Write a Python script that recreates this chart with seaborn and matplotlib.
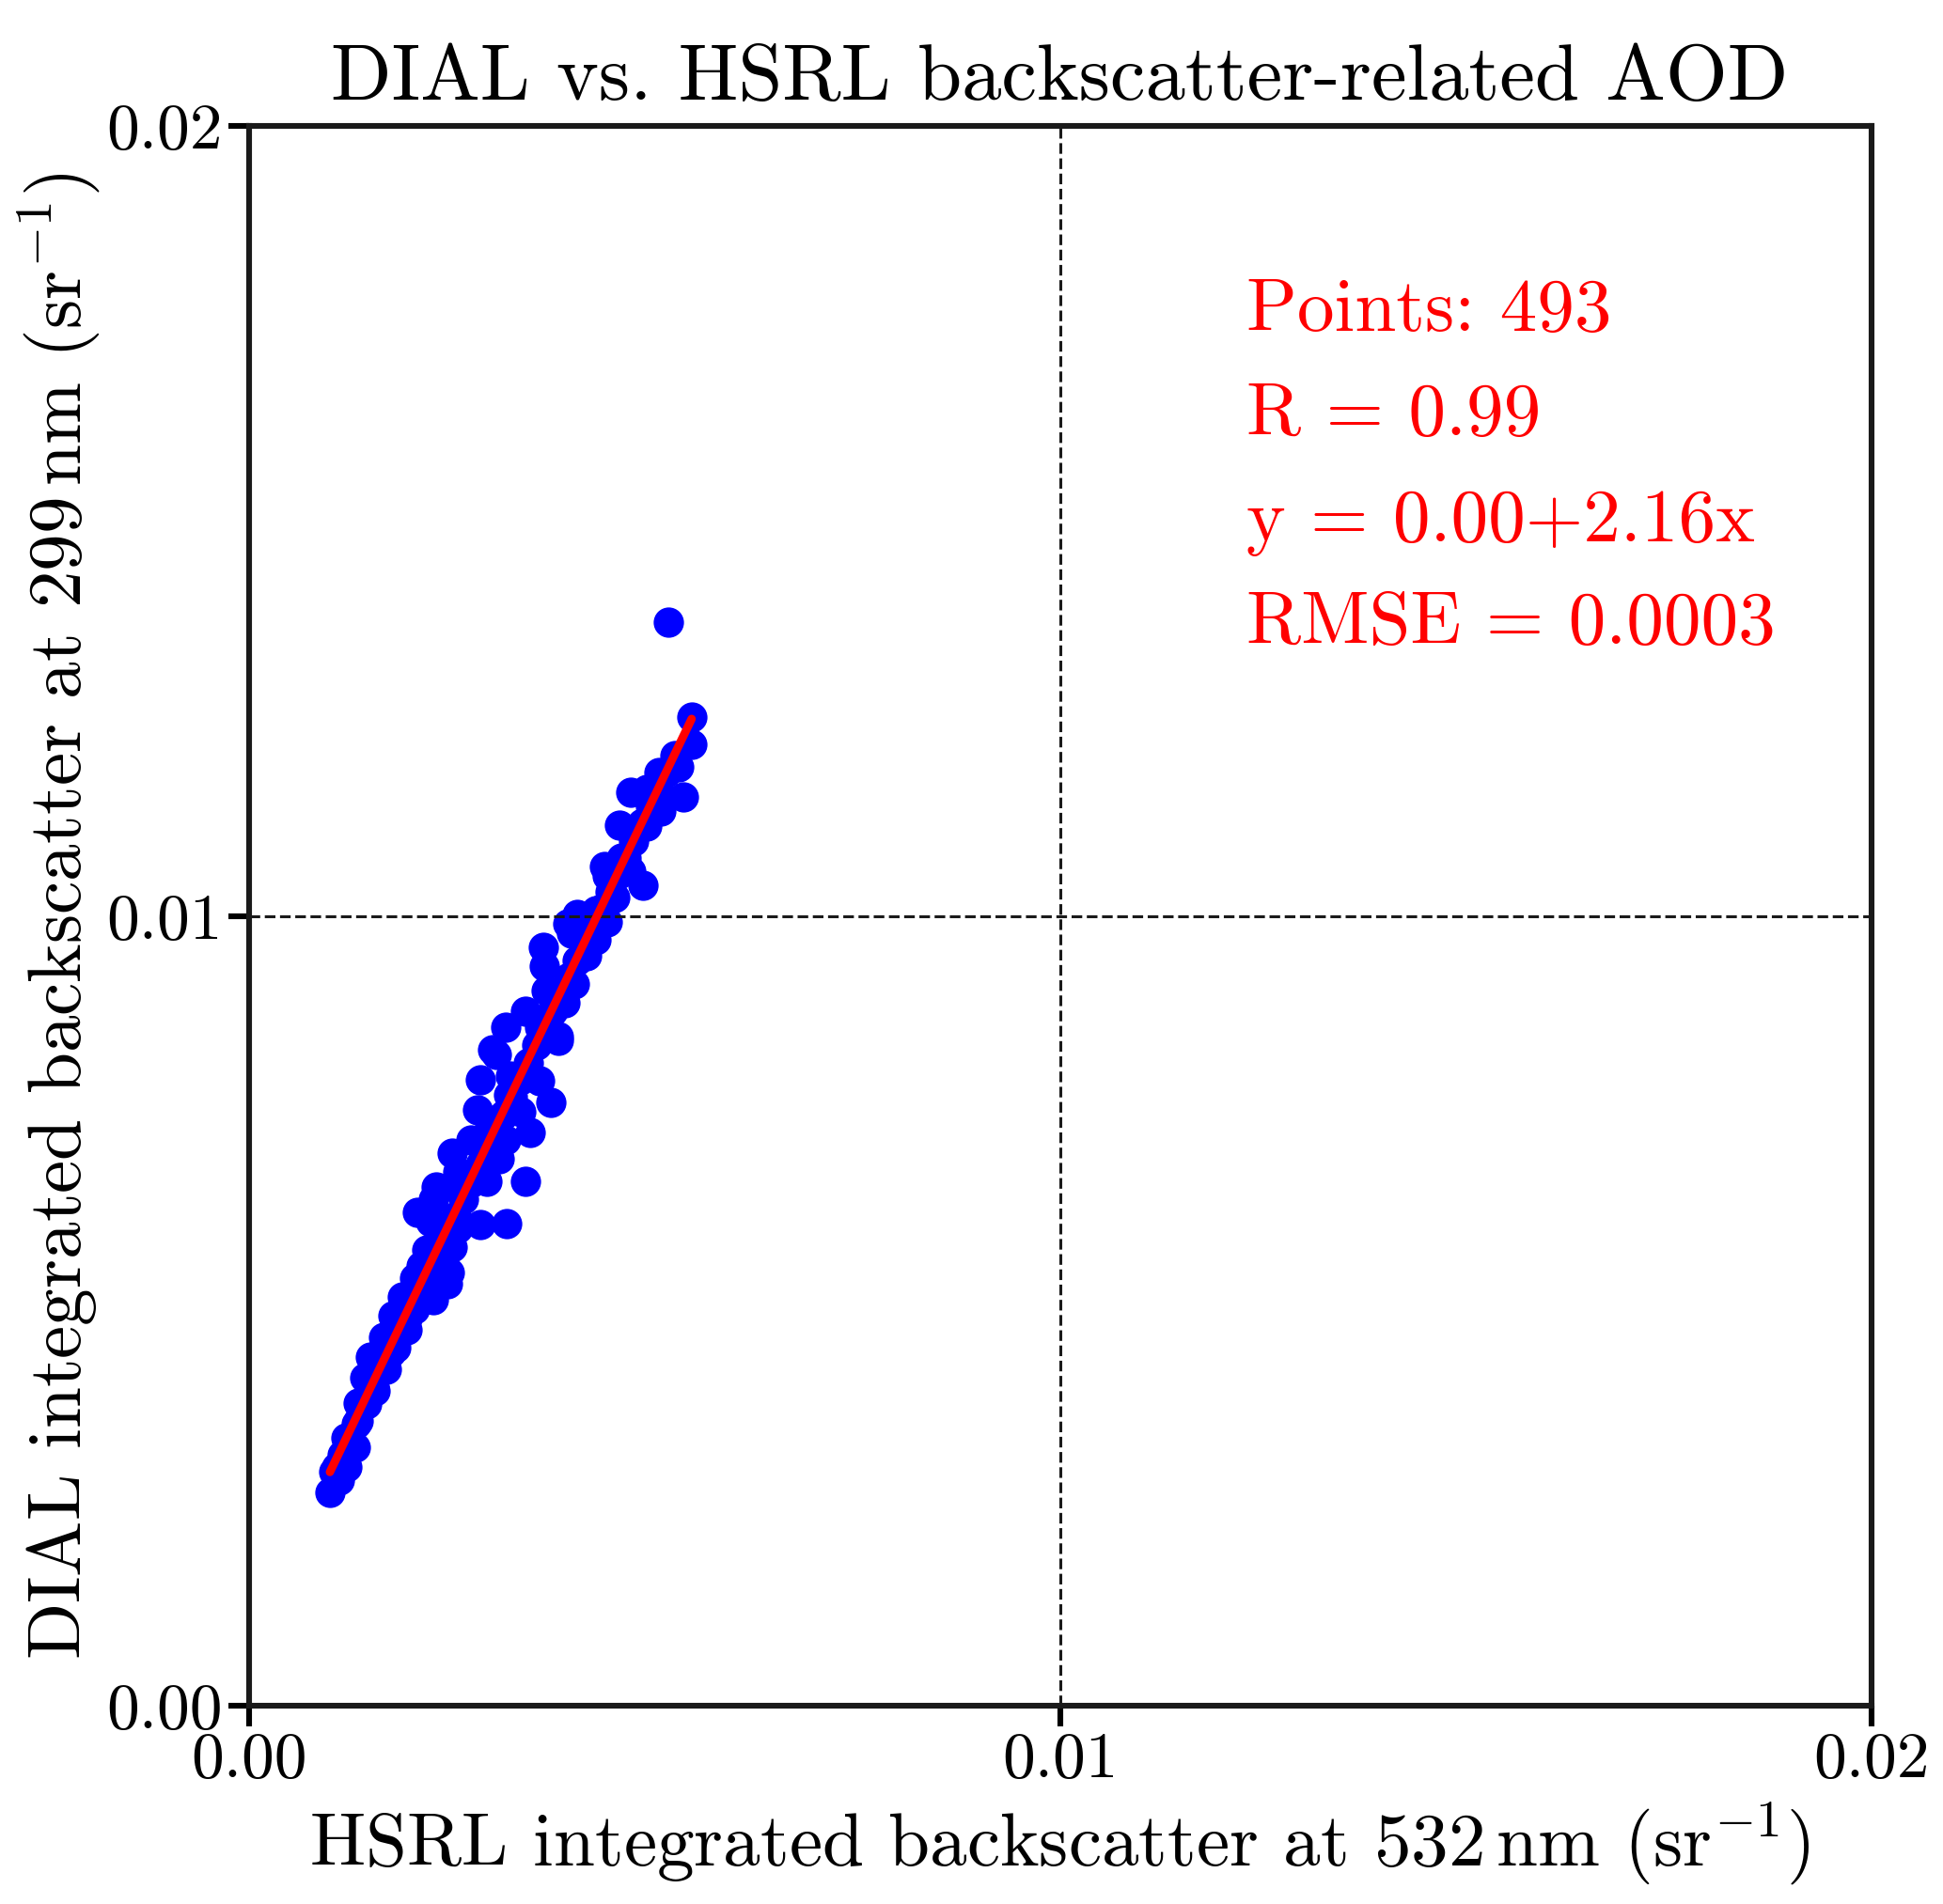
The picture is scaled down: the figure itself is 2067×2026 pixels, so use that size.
"""
DIAL vs. HSRL integrated backscatter scatter with linear fit.
"""

import numpy as np
import pandas as pd
import seaborn as sns
import matplotlib.pyplot as plt

# --- Data ---
hsrl_x = [
    0.005171, 0.00546, 0.00546, 0.005306, 0.005055, 0.005364, 0.004707, 0.004901,
    0.005075, 0.004572, 0.004746, 0.004901, 0.00438, 0.004418, 0.004862, 0.004707,
    0.004514, 0.004592, 0.004051, 0.003935, 0.004283, 0.004418, 0.004283, 0.003974,
    0.003627, 0.003645, 0.004167, 0.004013, 0.003897, 0.003665, 0.003413, 0.003163,
    0.003819, 0.003587, 0.003008,
    0.003819, 0.003047, 0.002854, 0.003221, 0.003587, 0.003723, 0.003201, 0.003356,
    0.002816, 0.003472, 0.002969, 0.003163, 0.002738, 0.002506, 0.003086, 0.002583,
    0.003413, 0.002931, 0.002313, 0.002622, 0.002275, 0.002082, 0.002854, 0.003182,
    0.002236, 0.002583, 0.002506, 0.002197, 0.00212, 0.002468, 0.002043, 0.002448,
    0.002275, 0.001889, 0.002043, 0.001773, 0.001947, 0.001657, 0.001811, 0.001502,
    0.001696, 0.001425, 0.00156, 0.001348, 0.001329, 0.001194, 0.00131, 0.001078,
    0.001213, 0.001117, 0.001001,
    0.00105, 0.00115, 0.00125, 0.00135, 0.00145, 0.00155, 0.00165, 0.00175,
    0.00185, 0.00195, 0.00205, 0.00215, 0.00225, 0.00235, 0.00245, 0.00255,
    0.00265, 0.00275, 0.00285, 0.00295, 0.00305, 0.00315, 0.00325, 0.00335,
    0.00345, 0.00355, 0.00365, 0.00375, 0.00385, 0.00395, 0.00405, 0.00415,
    0.00425, 0.00435, 0.00445, 0.00455, 0.00465, 0.00475, 0.00485, 0.00495,
    0.00505, 0.00515, 0.00525,
]
dial_y = [
    0.013713, 0.01251, 0.01217, 0.01188, 0.01181, 0.0115, 0.01157, 0.0116,
    0.01133, 0.01115, 0.01101, 0.01113, 0.01063, 0.01051, 0.01039, 0.01057,
    0.01023, 0.01073, 0.01002, 0.0099, 0.01006, 0.00992, 0.0097, 0.00978,
    0.0096, 0.00936, 0.0095, 0.00914, 0.0089, 0.00906, 0.00879, 0.00859,
    0.00847, 0.00859, 0.00831,
    0.00843, 0.00825, 0.00793, 0.00797, 0.00791, 0.00764, 0.00773, 0.00752,
    0.00754, 0.00726, 0.00736, 0.00716, 0.00716, 0.007, 0.00692, 0.00676,
    0.00664, 0.00664, 0.00657, 0.00649, 0.00641, 0.00625, 0.00609, 0.00611,
    0.00613, 0.00605, 0.00581, 0.00577, 0.00557, 0.00549, 0.00542, 0.00534,
    0.00514, 0.00518, 0.00502, 0.00494, 0.00476, 0.00466, 0.00454, 0.00442,
    0.00426, 0.00415, 0.00399, 0.00383, 0.00357, 0.00339, 0.00327, 0.00303,
    0.00303, 0.00286, 0.0027,
    0.00296, 0.00318, 0.0034, 0.00361, 0.00382, 0.00404, 0.00425, 0.00447,
    0.00469, 0.0049, 0.00512, 0.00533, 0.00555, 0.00577, 0.00598, 0.0062,
    0.00641, 0.00663, 0.00685, 0.00706, 0.00728, 0.00749, 0.00771, 0.00793,
    0.00814, 0.00836, 0.00857, 0.00879, 0.00901, 0.00922, 0.00944, 0.00965,
    0.00987, 0.01009, 0.0103, 0.01052, 0.01073, 0.01095, 0.01117, 0.01138,
    0.0116, 0.01181, 0.01203,
]

stats_lines = ['Points: 493', 'R = 0.99', 'y = 0.00+2.16x', 'RMSE = 0.0003']
tick_vals = [0.0, 0.01, 0.02]
tick_labels = ['0.00', '0.01', '0.02']

df = pd.DataFrame({'hsrl': hsrl_x, 'dial': dial_y})

# --- Style ---
sns.set_theme(style='ticks')
plt.rcParams['font.family'] = 'serif'
plt.rcParams['font.serif'] = ['cmr10']
plt.rcParams['mathtext.fontset'] = 'cm'
plt.rcParams['axes.formatter.use_mathtext'] = True
plt.rcParams['text.color'] = 'black'
plt.rcParams['axes.labelcolor'] = 'black'
plt.rcParams['xtick.color'] = 'black'
plt.rcParams['ytick.color'] = 'black'

fig = plt.figure(figsize=(10.335, 10.13), dpi=200)
ax = fig.add_axes([0.128, 0.104, 0.835, 0.830])

sns.regplot(data=df, x='hsrl', y='dial', ax=ax, ci=None, truncate=True,
            scatter_kws=dict(color='#0000ff', s=135, linewidths=0, alpha=1),
            line_kws=dict(color='#ff0000', linewidth=3.2, zorder=5))

ax.axvline(0.01, color='k', linestyle='--', linewidth=1.1, zorder=1)
ax.axhline(0.01, color='k', linestyle='--', linewidth=1.1, zorder=1)

ax.set_xlim(0, 0.02)
ax.set_ylim(0, 0.02)
ax.set_xticks(tick_vals)
ax.set_xticklabels(tick_labels)
ax.set_yticks(tick_vals)
ax.set_yticklabels(tick_labels)
ax.tick_params(axis='both', labelsize=25, width=2.2, length=8, direction='out', pad=2)

for side in ['left', 'right', 'top', 'bottom']:
    ax.spines[side].set_visible(True)
    ax.spines[side].set_linewidth(2.2)
    ax.spines[side].set_color('k')

ax.set_xlabel(r'HSRL integrated backscatter at 532$\,$nm (sr$^{-1}$)', fontsize=28.5, labelpad=4)
ax.set_ylabel(r'DIAL integrated backscatter at 299$\,$nm (sr$^{-1}$)', fontsize=28.5, labelpad=2)
ax.set_title('DIAL vs. HSRL backscatter-related AOD', fontsize=30.5, pad=10)

for line, ypos in zip(stats_lines, [0.870, 0.804, 0.737, 0.672]):
    ax.text(0.615, ypos, line, transform=ax.transAxes, color='#ff0000',
            fontsize=28.5, va='baseline', ha='left')

fig.savefig('out.png', dpi=200)
